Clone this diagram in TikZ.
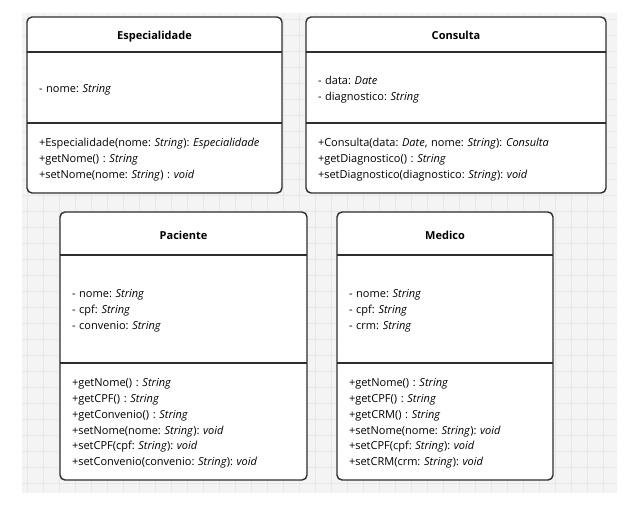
\documentclass[tikz,border=0pt]{standalone}
\usepackage{fontspec}
\setmainfont{Open Sans}
\usetikzlibrary{positioning,backgrounds}
\frenchspacing

\definecolor{gridbg}{HTML}{F4F4F4}
\definecolor{gridln}{HTML}{E7E7E7}
\definecolor{boxline}{HTML}{2E2E2E}

\tikzset{
    classhead/.style={anchor=north west, inner sep=0pt, outer sep=0pt,
        text height=11pt, text depth=0pt,
        font=\fontsize{11}{15.7}\selectfont\bfseries},
    compart/.style={anchor=north, align=left, inner xsep=12pt, inner ysep=0pt,
        outer sep=0pt, text height=12pt, font=\fontsize{11}{15.7}\selectfont},
    classline/.style={draw=boxline, line width=1.4pt},
    classfill/.style={fill=white, rounded corners=5pt},
}

\begin{document}
\begin{tikzpicture}[x=1pt, y=-1pt]
    \useasboundingbox (0,0) rectangle (644,508);

    % grid
    \begin{scope}[on background layer]
        \fill[gridbg] (22,13) rectangle (617,493);
        \foreach \gx in {27,43,...,603}
            \draw[gridln, line width=0.8pt] (\gx,13) -- (\gx,493);
        \foreach \gy in {19,35,...,483}
            \draw[gridln, line width=0.8pt] (22,\gy) -- (617,\gy);
    \end{scope}

    % Especialidade
    \node[classhead, minimum width=255pt, minimum height=35pt] (esp) at (27,17) {Especialidade};
    \node[compart, text width=231pt, minimum height=71pt, below=0pt of esp] (esp-attr)
        {- nome: \textit{String}};
    \node[compart, text width=231pt, minimum height=70pt, below=0pt of esp-attr] (esp-ops)
        {+Especialidade(nome: \textit{String}): \textit{Especialidade}\\
         +getNome() : \textit{String}\\
         +setNome(nome: \textit{String}) : \textit{void}};

    % Consulta
    \node[classhead, minimum width=300pt, minimum height=35pt] (con) at (306,17) {Consulta};
    \node[compart, text width=276pt, minimum height=71pt, below=0pt of con] (con-attr)
        {- data: \textit{Date}\\
         - diagnostico: \textit{String}};
    \node[compart, text width=276pt, minimum height=70pt, below=0pt of con-attr] (con-ops)
        {+Consulta(data: \textit{Date}, nome: \textit{String}): \textit{Consulta}\\
         +getDiagnostico() : \textit{String}\\
         +setDiagnostico(diagnostico: \textit{String}): \textit{void}};

    % Paciente
    \node[classhead, minimum width=247pt, minimum height=43pt] (pac) at (60,212) {Paciente};
    \node[compart, text width=223pt, minimum height=108pt, below=0pt of pac] (pac-attr)
        {- nome: \textit{String}\\
         - cpf: \textit{String}\\
         - convenio: \textit{String}};
    \node[compart, text width=223pt, minimum height=117pt, below=0pt of pac-attr] (pac-ops)
        {+getNome() : \textit{String}\\
         +getCPF() : \textit{String}\\
         +getConvenio() : \textit{String}\\
         +setNome(nome: \textit{String}): \textit{void}\\
         +setCPF(cpf: \textit{String}): \textit{void}\\
         +setConvenio(convenio: \textit{String}): \textit{void}};

    % Medico
    \node[classhead, minimum width=216pt, minimum height=43pt] (med) at (337,212) {Medico};
    \node[compart, text width=192pt, minimum height=108pt, below=0pt of med] (med-attr)
        {- nome: \textit{String}\\
         - cpf: \textit{String}\\
         - crm: \textit{String}};
    \node[compart, text width=192pt, minimum height=117pt, below=0pt of med-attr] (med-ops)
        {+getNome() : \textit{String}\\
         +getCPF() : \textit{String}\\
         +getCRM() : \textit{String}\\
         +setNome(nome: \textit{String}): \textit{void}\\
         +setCPF(cpf: \textit{String}): \textit{void}\\
         +setCRM(crm: \textit{String}): \textit{void}};

    % white bodies behind the text
    \begin{scope}[on background layer]
        \foreach \cls in {esp,con,pac,med}
            \fill[classfill] (\cls.north west) rectangle (\cls-ops.south east);
    \end{scope}

    % outlines and compartment lines
    \foreach \cls in {esp,con,pac,med} {
        \draw[classline, rounded corners=5pt] (\cls.north west) rectangle (\cls-ops.south east);
        \draw[classline] (\cls.south west) -- (\cls.south east);
        \draw[classline] (\cls-attr.south west) -- (\cls-attr.south east);
    }
\end{tikzpicture}
\end{document}
